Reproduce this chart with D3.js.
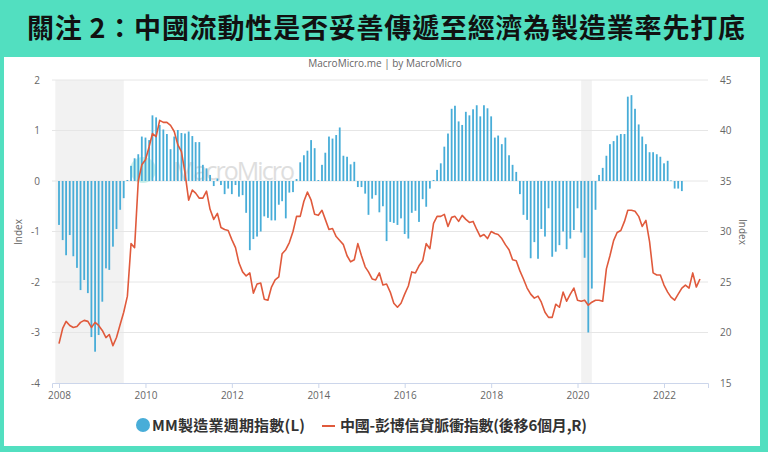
<!DOCTYPE html>
<html>
<head>
<meta charset="utf-8">
<script src="https://cdn.jsdelivr.net/npm/d3@7"></script>
<style>
  body { margin: 0; background: #52dfc0; }
  svg { display: block; }
  .tick text { font-family: "Open Sans", "Noto Sans", sans-serif; font-size: 10px; fill: #666; }
</style>
</head>
<body>
<svg id="chart" width="768" height="452"></svg>
<script>
// MM manufacturing cycle index (left axis), monthly from 2008-01
var cycleIndex = [
  -0.87,-1.17,-1.47,-1.07,-1.49,-1.72,-2.16,-1.96,-2.22,-3.09,-3.38,-3.05,
  -2.39,-1.73,-1.76,-1.30,-0.95,-0.57,-0.34,0.02,0.30,0.45,0.53,0.88,
  0.86,0.81,1.30,1.26,1.11,1.02,0.93,0.63,0.88,1.01,0.95,0.94,
  0.98,0.89,0.77,0.77,0.32,0.25,0.12,-0.10,0.05,-0.08,-0.26,-0.15,
  -0.26,-0.08,-0.31,-0.28,-0.63,-1.37,-1.15,-1.10,-1.00,-0.70,-0.73,-0.78,
  -0.78,-0.47,-0.40,-0.74,-0.23,-0.22,0.04,0.37,0.51,0.60,0.81,0.65,
  0.02,0.32,0.56,0.88,0.84,0.91,1.06,0.50,0.48,0.33,0.38,-0.12,
  -0.12,-0.25,-0.67,-0.35,-0.28,-0.62,-0.50,-1.19,-0.81,-0.83,-0.87,-0.74,
  -1.05,-1.14,-0.63,-0.59,-0.81,-0.36,-0.51,-0.15,0.02,0.22,0.35,0.68,
  0.94,1.43,1.49,1.18,1.11,1.37,1.30,1.42,1.50,1.28,1.50,1.44,
  1.28,0.86,0.90,0.73,0.86,0.51,0.32,0.18,-0.26,-0.67,-0.77,-1.53,
  -1.21,-1.54,-0.95,-1.10,-0.54,-1.50,-1.40,-1.27,-1.00,-1.35,-1.14,-0.97,
  -0.54,-1.02,-1.52,-3.00,-2.13,-0.57,0.12,0.26,0.50,0.73,0.79,0.90,
  0.93,0.93,1.67,1.70,1.43,1.12,0.88,0.73,0.57,0.57,0.53,0.48,
  0.35,0.40,0.01,-0.15,-0.15,-0.20
];

// China Bloomberg credit impulse, lagged 6 months (right axis), monthly from 2008-01
var creditImpulse = [
  18.9,20.4,21.1,20.7,20.5,20.6,21.0,21.2,21.1,20.5,21.0,20.7,
  20.2,19.5,19.8,18.7,19.5,20.8,22.0,23.6,28.8,28.4,35.0,36.6,
  37.1,38.4,39.7,39.4,41.0,40.8,40.8,40.5,39.9,38.6,37.9,35.8,
  33.1,34.1,33.8,33.3,33.3,34.0,32.2,31.2,31.8,30.4,30.2,30.1,
  29.2,28.4,26.9,26.0,25.6,25.9,23.9,24.8,24.9,23.3,23.2,24.5,
  25.2,25.5,27.8,28.2,28.9,30.0,31.5,31.5,33.0,33.9,33.1,31.7,
  31.6,32.1,31.2,30.2,30.3,29.5,29.1,28.7,27.6,27.0,27.2,28.8,
  27.6,26.5,26.0,25.3,25.2,25.9,24.7,24.8,24.0,22.9,22.5,22.9,
  23.8,24.6,26.0,25.9,26.6,27.1,28.8,28.3,30.8,31.5,31.5,31.7,
  30.5,31.4,31.5,31.0,31.6,31.2,30.9,31.0,30.2,29.5,29.7,29.3,
  30.0,29.8,29.7,29.3,28.7,28.2,27.2,27.1,26.1,25.3,24.4,23.8,
  23.4,23.6,23.0,22.0,21.5,21.5,22.8,22.5,24.0,23.1,23.8,24.4,
  23.2,23.1,23.2,22.7,23.0,23.2,23.2,23.1,26.3,27.6,29.1,29.9,
  30.1,31.0,32.1,32.1,32.0,31.5,30.5,31.1,29.0,25.9,25.7,25.7,
  24.7,24.0,23.5,23.2,23.8,24.4,24.7,24.4,25.9,24.5,25.3
];

var recessions = [["2007-12-01", "2009-07-01"], ["2020-02-01", "2020-05-01"]];
var leftTicks = [2, 1, 0, -1, -2, -3, -4];
var rightTicks = [45, 40, 35, 30, 25, 20, 15];
var yearTicks = [2008, 2010, 2012, 2014, 2016, 2018, 2020, 2022];

var title = "關注 2：中國流動性是否妥善傳遞至經濟為製造業率先打底";
var legendBars = "MM製造業週期指數(L)";
var legendLine = "中國-彭博信貸脈衝指數(後移6個月,R)";

var parse = d3.timeParse("%Y-%m-%d");
var months = d3.timeMonth.range(new Date(2008, 0, 1), new Date(2022, 11, 1));

var plot = {left: 52, right: 708, top: 80, bottom: 383};

// anchor the year labels, then widen the domain to the plot edges
var x = d3.scaleTime()
    .domain([new Date(2008, 0, 1), new Date(2022, 0, 1)])
    .range([59, 664]);
x.domain([x.invert(plot.left), x.invert(plot.right)]).range([plot.left, plot.right]);

var yL = d3.scaleLinear().domain([-4, 2]).range([plot.bottom, plot.top]);
var yR = d3.scaleLinear().domain([15, 45]).range([plot.bottom, plot.top]);

var svg = d3.select("#chart");

svg.append("rect").attr("width", 768).attr("height", 452).attr("fill", "#52dfc0");
svg.append("rect").attr("x", 4).attr("y", 57).attr("width", 756).attr("height", 389).attr("fill", "#fff");

svg.append("text")
    .attr("x", 386).attr("y", 38)
    .attr("text-anchor", "middle")
    .style("font-family", "'Noto Sans CJK TC', sans-serif")
    .style("font-weight", 700)
    .style("font-size", "27px")
    .attr("fill", "#111")
    .attr("textLength", 718)
    .text(title);

svg.append("text")
    .attr("x", 385).attr("y", 67)
    .attr("text-anchor", "middle")
    .style("font-family", "'Open Sans', sans-serif")
    .style("font-size", "10px")
    .attr("fill", "#666")
    .text("MacroMicro.me | by MacroMicro");

// recession shading
svg.selectAll(".band")
    .data(recessions)
    .enter().append("rect")
    .attr("class", "band")
    .attr("x", function (d) { return x(parse(d[0])); })
    .attr("width", function (d) { return x(parse(d[1])) - x(parse(d[0])); })
    .attr("y", plot.top)
    .attr("height", plot.bottom - plot.top)
    .attr("fill", "#f2f2f2");

// grid
svg.selectAll(".grid")
    .data(leftTicks.slice(0, -1))
    .enter().append("line")
    .attr("x1", plot.left).attr("x2", plot.right)
    .attr("y1", function (d) { return yL(d); })
    .attr("y2", function (d) { return yL(d); })
    .attr("stroke", "#e6e6e6");

// watermark
var wm = svg.append("g").attr("opacity", 0.55);
wm.append("circle").attr("cx", 143).attr("cy", 170).attr("r", 13).attr("fill", "#9fe6dc");
wm.append("text")
    .attr("x", 173).attr("y", 180)
    .style("font-family", "'Open Sans', sans-serif")
    .style("font-size", "25px")
    .attr("fill", "#c4c4c4")
    .attr("textLength", 122)
    .text("MacroMicro");

// bars
svg.selectAll(".bar")
    .data(cycleIndex)
    .enter().append("rect")
    .attr("class", "bar")
    .attr("x", function (d, i) { return x(months[i]) - 0.9; })
    .attr("width", 1.8)
    .attr("y", function (d) { return yL(Math.max(0, d)); })
    .attr("height", function (d) { return Math.max(0.6, Math.abs(yL(d) - yL(0))); })
    .attr("fill", "#48add8");

// line
var line = d3.line()
    .x(function (d, i) { return x(months[i]); })
    .y(function (d) { return yR(d); });

svg.append("path")
    .datum(creditImpulse)
    .attr("d", line)
    .attr("fill", "none")
    .attr("stroke", "#e05a3c")
    .attr("stroke-width", 1.6)
    .attr("stroke-linejoin", "round");

// axes
var xAxis = svg.append("g")
    .attr("transform", "translate(0," + plot.bottom + ")")
    .call(d3.axisBottom(x)
        .tickValues(yearTicks.map(function (y) { return new Date(y, 0, 1); }))
        .tickFormat(d3.timeFormat("%Y"))
        .tickSize(5)
        .tickPadding(4));
xAxis.select(".domain").attr("stroke", "#ccd6eb");
xAxis.selectAll(".tick line").attr("stroke", "#ccd6eb");

var plain = function (d) { return String(d); };

var leftAxis = svg.append("g")
    .attr("transform", "translate(" + plot.left + ",0)")
    .call(d3.axisLeft(yL).tickValues(leftTicks).tickFormat(plain).tickSize(0).tickPadding(12));
leftAxis.select(".domain").remove();

var rightAxis = svg.append("g")
    .attr("transform", "translate(" + plot.right + ",0)")
    .call(d3.axisRight(yR).tickValues(rightTicks).tickFormat(plain).tickSize(0).tickPadding(12));
rightAxis.select(".domain").remove();

svg.append("text")
    .attr("transform", "translate(22,232) rotate(-90)")
    .attr("text-anchor", "middle")
    .style("font-family", "'Open Sans', sans-serif")
    .style("font-size", "10px")
    .attr("fill", "#666")
    .text("Index");

svg.append("text")
    .attr("transform", "translate(739,232) rotate(90)")
    .attr("text-anchor", "middle")
    .style("font-family", "'Open Sans', sans-serif")
    .style("font-size", "10px")
    .attr("fill", "#666")
    .text("Index");

// legend
var legend = svg.append("g")
    .style("font-family", "'Noto Sans CJK TC', sans-serif")
    .style("font-weight", 700)
    .style("font-size", "15px")
    .attr("fill", "#333");
legend.append("circle").attr("cx", 143).attr("cy", 425).attr("r", 7).attr("fill", "#48add8");
legend.append("text").attr("x", 152).attr("y", 430.5).attr("textLength", 153).text(legendBars);
legend.append("line")
    .attr("x1", 322).attr("x2", 335).attr("y1", 426).attr("y2", 426)
    .attr("stroke", "#e05a3c").attr("stroke-width", 2);
legend.append("text").attr("x", 340).attr("y", 430.5).attr("textLength", 247).text(legendLine);
</script>
</body>
</html>
